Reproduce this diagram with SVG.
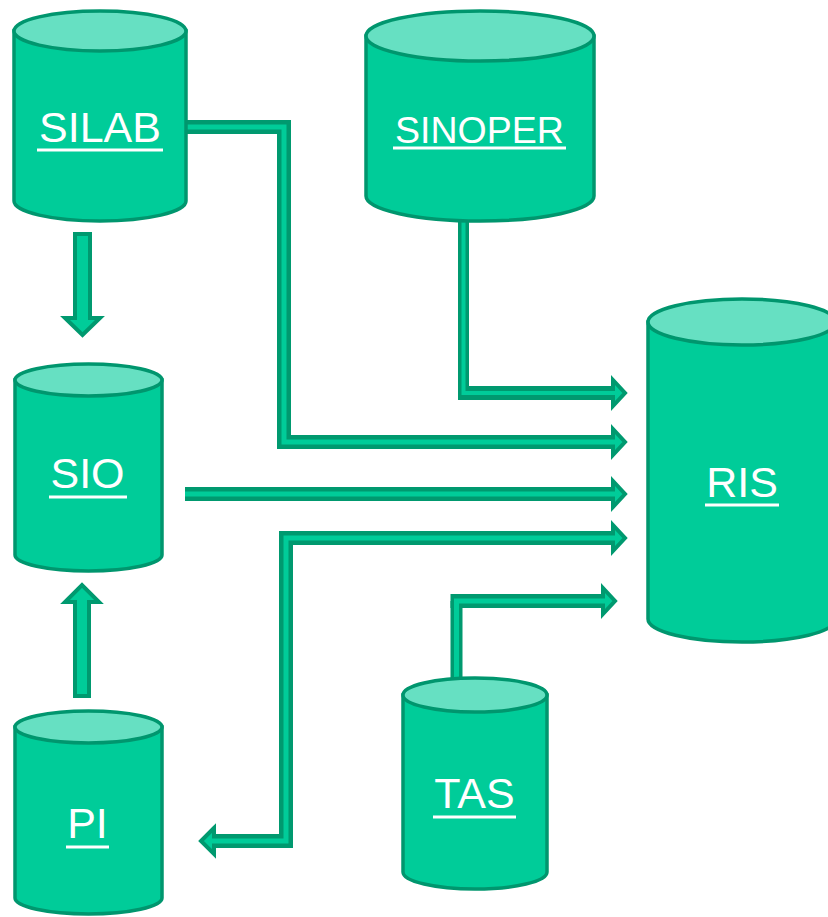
<svg xmlns="http://www.w3.org/2000/svg" width="828" height="917" viewBox="0 0 828 917">
  <style>
    .body { fill: #00CC99; stroke: #00966E; stroke-width: 3.5; }
    .lid { fill: #66E0C2; stroke: #00966E; stroke-width: 3.5; }
    .label { font-family: "Liberation Sans", Arial, sans-serif; font-size: 43px; fill: #FFFFFF; text-anchor: middle; }
    .uline { stroke: #FFFFFF; stroke-width: 3; }
    .shaft-out { fill: none; stroke: #00996F; stroke-width: 14; stroke-linejoin: miter; stroke-linecap: butt; }
    .shaft-in { fill: none; stroke: #00CC99; stroke-width: 5; stroke-linejoin: miter; stroke-linecap: butt; }
    .head { fill: #00CC99; stroke: #00996F; stroke-width: 4; stroke-linejoin: miter; }
    .block { fill: #00CC99; stroke: #00996F; stroke-width: 4; stroke-linejoin: miter; }
  </style>

  <!-- connectors -->
  <g id="connectors">
    <!-- SILAB to RIS -->
    <g id="c-silab-ris">
      <path class="shaft-out" d="M187,127 H284 V442 H614"/>
      <polygon class="head" points="613,429 625,442 613,455"/>
      <path class="shaft-in" d="M187,127 H284 V442 H616"/>
    </g>
    <!-- SINOPER to RIS -->
    <g id="c-sinoper-ris">
      <path class="shaft-out" d="M463.5,221 V386" style="stroke-width:11"/>
      <path class="shaft-out" d="M458,393 H614"/>
      <polygon class="head" points="613,380 625,393 613,406"/>
      <path class="shaft-in" d="M463.5,221 V393 H616" style="stroke-width:4"/>
    </g>
    <!-- SIO to RIS -->
    <g id="c-sio-ris">
      <path class="shaft-out" d="M185,494 H614"/>
      <polygon class="head" points="613,481 625,494 613,507"/>
      <path class="shaft-in" d="M185,494 H616"/>
    </g>
    <!-- PI to RIS, both ways -->
    <g id="c-pi-ris">
      <path class="shaft-out" d="M614,538 H286 V841 H213"/>
      <polygon class="head" points="613,525 625,538 613,551"/>
      <polygon class="head" points="214,828 201,841 214,854"/>
      <path class="shaft-in" d="M616,538 H286 V841 H211"/>
    </g>
    <!-- TAS to RIS -->
    <g id="c-tas-ris">
      <path class="shaft-out" d="M456.5,679 V601" style="stroke-width:12"/>
      <path class="shaft-out" d="M450.5,601 H604"/>
      <polygon class="head" points="603,588 615,601 603,614"/>
      <path class="shaft-in" d="M456.5,679 V601 H606"/>
    </g>
    <!-- SILAB to SIO -->
    <polygon id="c-silab-sio" class="block" points="75,234 90,234 90,318 100,318 82.5,335 65,318 75,318"/>
    <!-- PI to SIO -->
    <polygon id="c-pi-sio" class="block" points="75,696 89,696 89,602 99,602 82,585 65,602 75,602"/>
  </g>

  <!-- SILAB -->
  <g id="silab">
    <path class="body" d="M14,31 V201 A86,20 0 0 0 186,201 V31 Z"/>
    <ellipse class="lid" cx="100" cy="31" rx="86" ry="20"/>
    <text class="label" x="100" y="142">SILAB</text>
    <line class="uline" x1="37" y1="150" x2="163" y2="150"/>
  </g>

  <!-- SINOPER -->
  <g id="sinoper">
    <path class="body" d="M366,36 V196 A114,25 0 0 0 594,196 V36 Z"/>
    <ellipse class="lid" cx="480" cy="36" rx="114" ry="25"/>
    <text class="label" x="479.5" y="143" style="font-size:37.5px">SINOPER</text>
    <line class="uline" x1="393" y1="148" x2="566" y2="148"/>
  </g>

  <!-- SIO -->
  <g id="sio">
    <path class="body" d="M15,380 V555 A73.5,16 0 0 0 162,555 V380 Z"/>
    <ellipse class="lid" cx="88.5" cy="380" rx="73.5" ry="16"/>
    <text class="label" x="87.5" y="488">SIO</text>
    <line class="uline" x1="49" y1="497" x2="127" y2="497"/>
  </g>

  <!-- PI -->
  <g id="pi">
    <path class="body" d="M15,727 V898 A73.5,16 0 0 0 162,898 V727 Z"/>
    <ellipse class="lid" cx="88.5" cy="727" rx="73.5" ry="16"/>
    <text class="label" x="87.5" y="838">PI</text>
    <line class="uline" x1="66" y1="847" x2="109" y2="847"/>
  </g>

  <!-- RIS -->
  <g id="ris">
    <path class="body" d="M648,322 V619 A94,23 0 0 0 836,619 V322 Z"/>
    <ellipse class="lid" cx="742" cy="322" rx="94" ry="23"/>
    <text class="label" x="742" y="497">RIS</text>
    <line class="uline" x1="705" y1="505" x2="779" y2="505"/>
  </g>

  <!-- TAS -->
  <g id="tas">
    <path class="body" d="M403,695 V872 A72,17 0 0 0 547,872 V695 Z"/>
    <ellipse class="lid" cx="475" cy="695" rx="72" ry="17"/>
    <text class="label" x="474.5" y="808">TAS</text>
    <line class="uline" x1="433" y1="817" x2="516" y2="817"/>
  </g>
</svg>
